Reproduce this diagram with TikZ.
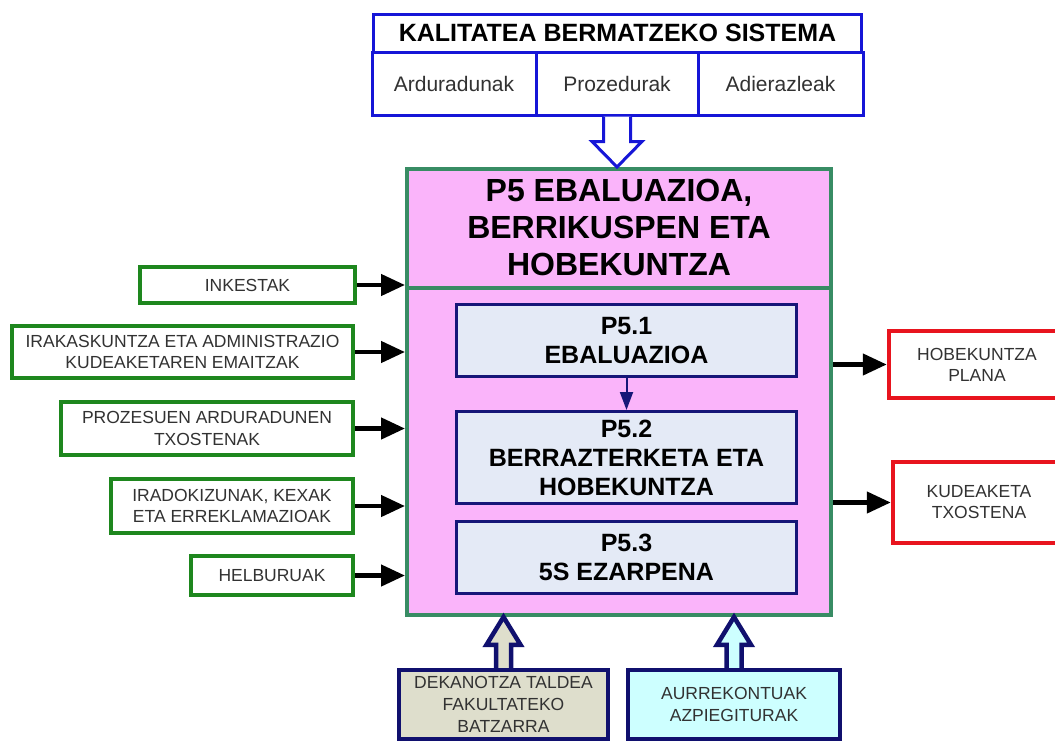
\documentclass[tikz,border=0pt]{standalone}
\usepackage{fontspec}
\setmainfont{Liberation Sans}
\usetikzlibrary{arrows.meta,calc}
\definecolor{kbsblue}{RGB}{22,22,215}
\definecolor{maingreen}{RGB}{56,140,100}
\definecolor{mainpink}{RGB}{250,180,250}
\definecolor{subfill}{RGB}{228,234,246}
\definecolor{subnavy}{RGB}{22,22,120}
\definecolor{leftgreen}{RGB}{30,135,30}
\definecolor{outred}{RGB}{232,20,30}
\definecolor{beige}{RGB}{222,222,204}
\definecolor{lcyan}{RGB}{205,255,255}
\definecolor{botnavy}{RGB}{16,16,110}
\definecolor{txtgray}{RGB}{50,50,50}
\begin{document}
\begin{tikzpicture}[x=1pt,y=-1pt,
  kbscell/.style={draw=kbsblue, line width=3pt, fill=white, inner sep=0pt, align=center},
  kbstitle/.style={kbscell, font=\fontsize{25}{30}\selectfont\bfseries},
  kbssub/.style={kbscell, font=\fontsize{21}{25}\selectfont, text=txtgray},
  mainbox/.style={draw=maingreen, line width=4pt, fill=mainpink, inner sep=0pt},
  mainline/.style={draw=maingreen, line width=4pt},
  maintitle/.style={align=center, font=\fontsize{32}{37}\selectfont\bfseries, inner sep=0pt},
  subbox/.style={draw=subnavy, line width=3pt, fill=subfill, inner sep=0pt, align=center,
    minimum width=340pt, font=\fontsize{25}{29}\selectfont\bfseries},
  inbox/.style={draw=leftgreen, line width=4.5pt, fill=white, inner sep=0pt, align=center,
    text=txtgray, font=\fontsize{17.5}{21.5}\selectfont},
  outbox/.style={draw=outred, line width=4.5pt, fill=white, inner sep=0pt, align=center,
    text=txtgray, font=\fontsize{17.5}{21}\selectfont},
  resbox/.style={draw=botnavy, line width=4.5pt, inner sep=0pt, align=center,
    text=txtgray, font=\fontsize{17.5}{22}\selectfont},
  blk/.style={draw=black, line width=4.5pt, -{Triangle[length=24pt,width=21pt]}},
  navyarr/.style={draw=subnavy, line width=2pt, -{Triangle[length=18pt,width=13pt]}},
  hollowdown/.style={draw=kbsblue, line width=3pt, fill=white, line join=miter},
  hollowup/.style={draw=botnavy, line width=4.5pt, line join=miter}
]
\useasboundingbox (0,0) rectangle (1055,742);
\clip (0,0) rectangle (1055,742);

% Quality assurance system (top)
\node[kbstitle, minimum width=488pt, minimum height=38pt] (kbst) at (617.5,33) {KALITATEA BERMATZEKO SISTEMA};
\node[kbssub, minimum width=164pt, minimum height=63pt] (c1) at (454,83.5) {Arduradunak};
\node[kbssub, minimum width=162pt, minimum height=63pt] (c2) at (617,83.5) {Prozedurak};
\node[kbssub, minimum width=165pt, minimum height=63pt] (c3) at (780.5,83.5) {Adierazleak};

% Main process box
\node[mainbox, minimum width=424pt, minimum height=446pt] (main) at (619,392) {};
\coordinate (div) at (619,288);
\draw[mainline] (main.west |- div) -- (main.east |- div);
\node[maintitle] (mt) at (619,227) {P5 EBALUAZIOA,\\BERRIKUSPEN ETA\\HOBEKUNTZA};

% Sub-processes
\node[subbox, minimum height=72pt] (p51) at (626.5,340.5) {P5.1\\EBALUAZIOA};
\node[subbox, minimum height=92pt] (p52) at (626.5,457.5) {P5.2\\BERRAZTERKETA ETA\\HOBEKUNTZA};
\node[subbox, minimum height=72pt] (p53) at (626.5,557.5) {P5.3\\5S EZARPENA};
\draw[navyarr] (p51.south) -- (p52.north);

% Top hollow arrow
\draw[hollowdown] ($(c2.south)+(-13.5,0)$) -- ++(0,25) -- ++(-11.5,0)
  -- (c2.south |- main.north) -- ($(c2.south)+(25,25)$) -- ++(-11.5,0)
  -- ($(c2.south)+(13.5,0)$);

% Inputs (left)
\node[inbox, minimum width=215pt, minimum height=36pt] (ink) at (247.5,285) {INKESTAK};
\node[inbox, minimum width=341pt, minimum height=52pt] (irak) at (182.5,352) {IRAKASKUNTZA ETA ADMINISTRAZIO\\KUDEAKETAREN EMAITZAK};
\node[inbox, minimum width=292pt, minimum height=53pt] (proz) at (207,428.5) {PROZESUEN ARDURADUNEN\\TXOSTENAK};
\node[inbox, minimum width=242pt, minimum height=54pt] (irad) at (232,506) {IRADOKIZUNAK, KEXAK\\ETA ERREKLAMAZIOAK};
\node[inbox, minimum width=162pt, minimum height=39pt] (helb) at (272,575.5) {HELBURUAK};
\foreach \n in {ink,irak,proz,irad,helb}
  \draw[blk] (\n.east) -- (\n.east -| main.west);

% Outputs (right)
\node[outbox, minimum width=176pt, minimum height=67pt] (hob) at (977,364.5) {HOBEKUNTZA\\PLANA};
\node[outbox, minimum width=172pt, minimum height=81pt] (kud) at (979,502.5) {KUDEAKETA\\TXOSTENA};
\draw[blk] (main.east |- hob.west) -- (hob.west);
\draw[blk] (main.east |- kud.west) -- (kud.west);

% Resources (bottom)
\node[resbox, fill=beige, minimum width=209pt, minimum height=69pt] (dek) at (503.5,704.5) {DEKANOTZA TALDEA\\FAKULTATEKO\\BATZARRA};
\node[resbox, fill=lcyan, minimum width=212pt, minimum height=69pt] (aur) at (734,704.5) {AURREKONTUAK\\AZPIEGITURAK};
\draw[hollowup, fill=beige] ($(dek.north)+(-7.5,0)$) -- ++(0,-23) -- ++(-9.5,0)
  -- (dek.north |- main.south) -- ($(dek.north)+(17,-23)$) -- ++(-9.5,0)
  -- ($(dek.north)+(7.5,0)$);
\draw[hollowup, fill=lcyan] ($(aur.north)+(-7.5,0)$) -- ++(0,-23) -- ++(-9.5,0)
  -- (aur.north |- main.south) -- ($(aur.north)+(17,-23)$) -- ++(-9.5,0)
  -- ($(aur.north)+(7.5,0)$);
\end{tikzpicture}
\end{document}
